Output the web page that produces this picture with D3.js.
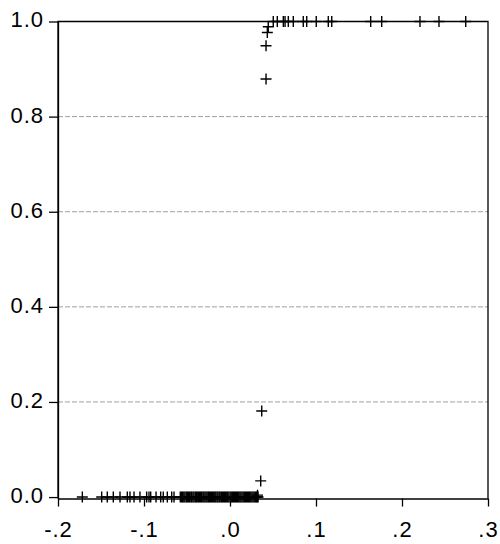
<!DOCTYPE html>
<html>
<head>
<meta charset="utf-8">
<script src="https://cdn.jsdelivr.net/npm/d3@7"></script>
<style>
  body { margin: 0; background: #fff; }
  svg text { font-family: "Liberation Sans", Arial, sans-serif; font-size: 22px; fill: #000; }
</style>
</head>
<body>
<script>
"use strict";
// points sitting at y = 0
let lowX = [-0.1717, -0.1492, -0.1427, -0.1357, -0.1279, -0.1194, -0.1163, -0.1116,
  -0.1047, -0.0969, -0.0942, -0.0922, -0.0860, -0.0806, -0.0776, -0.0729, -0.0678, -0.0651,
  -0.0578, -0.0562, -0.0551, -0.0537, -0.0524, -0.0509, -0.0497, -0.0483, -0.0471, -0.0455,
  -0.0446, -0.0431, -0.0419, -0.0404, -0.0392, -0.0381, -0.0366, -0.0355, -0.0341, -0.0329,
  -0.0315, -0.0304, -0.0291, -0.0278, -0.0266, -0.0252, -0.0241, -0.0229, -0.0214, -0.0203,
  -0.0189, -0.0177, -0.0165, -0.0151, -0.0140, -0.0126, -0.0115, -0.0101, -0.0089, -0.0076,
  -0.0063, -0.0052, -0.0038, -0.0026, -0.0013, 0.0002, 0.0014, 0.0027, 0.0039, 0.0052,
  0.0064, 0.0077, 0.0089, 0.0102, 0.0115, 0.0127, 0.0140, 0.0153, 0.0166, 0.0178, 0.0191,
  0.0204, 0.0217, 0.0229, 0.0242, 0.0255, 0.0268, 0.0281, 0.0294, 0.0306, 0.0318, 0.0326];
// points sitting at y = 1
let highX = [0.0503, 0.0550, 0.0620, 0.0640, 0.0678, 0.0736, 0.0852, 0.0892, 0.1003,
  0.1143, 0.1183, 0.1636, 0.1764, 0.2209, 0.2430, 0.2741];
// points in between
let midX = [0.0320, 0.0357, 0.0369, 0.0419, 0.0419, 0.0434, 0.0445];
let midY = [0.004, 0.034, 0.181, 0.879, 0.949, 0.977, 0.989];

let xTicks = [-0.2, -0.1, 0.0, 0.1, 0.2, 0.3];
let xTickLabels = ["-.2", "-.1", ".0", ".1", ".2", ".3"];
let yTicks = [0.0, 0.2, 0.4, 0.6, 0.8, 1.0];
let yTickLabels = ["0.0", "0.2", "0.4", "0.6", "0.8", "1.0"];

let points = lowX.map(x => [x, 0])
  .concat(highX.map(x => [x, 1]))
  .concat(midX.map((x, i) => [x, midY[i]]));

let svgWidth = 500;
let svgHeight = 544;
let plotLeft = 58, plotRight = 488, plotTop = 21.5, plotBottom = 498.5;

let x = d3.scaleLinear().domain([-0.2, 0.3]).range([plotLeft, plotRight]);
let y = d3.scaleLinear().domain([-0.003, 1.0]).range([plotBottom, plotTop]);

let svg = d3.select("body").append("svg")
    .attr("width", svgWidth)
    .attr("height", svgHeight);

// dashed grid
svg.selectAll("line.grid")
    .data(yTicks.filter(t => t > 0 && t < 1))
    .enter()
    .append("line")
    .attr("class", "grid")
    .attr("x1", plotLeft)
    .attr("x2", plotRight)
    .attr("y1", d => y(d))
    .attr("y2", d => y(d))
    .attr("stroke", "#a0a0a0")
    .attr("stroke-width", 1)
    .attr("stroke-dasharray", "5,2");

// frame
svg.append("path")
    .attr("d", `M${plotLeft},${plotBottom}V${plotTop}H${plotRight}V${plotBottom}`)
    .attr("fill", "none")
    .attr("stroke", "#000")
    .attr("stroke-width", 1.3);

let xAxis = d3.axisBottom(x)
    .tickValues(xTicks)
    .tickFormat((d, i) => xTickLabels[i])
    .tickSizeInner(8)
    .tickSizeOuter(0)
    .tickPadding(15);
let gx = svg.append("g")
    .attr("transform", `translate(0,${plotBottom})`)
    .call(xAxis);

let yAxis = d3.axisLeft(y)
    .tickValues(yTicks)
    .tickFormat((d, i) => yTickLabels[i])
    .tickSizeInner(9)
    .tickSizeOuter(0)
    .tickPadding(5);
let gy = svg.append("g")
    .attr("transform", `translate(${plotLeft},0)`)
    .call(yAxis);

[gx, gy].forEach(g => {
  g.select(".domain").attr("stroke", "#000").attr("stroke-width", 1.3);
  g.selectAll(".tick line").attr("stroke", "#000").attr("stroke-width", 1.3);
  g.selectAll("text")
    .attr("font-size", 22)
    .attr("font-family", "Liberation Sans, Arial, sans-serif")
    .attr("letter-spacing", 1);
});
gy.selectAll("text").attr("dy", "0.245em");

// plus markers
svg.selectAll("path.pt")
    .data(points)
    .enter()
    .append("path")
    .attr("class", "pt")
    .attr("transform", d => `translate(${x(d[0])},${y(d[1])})`)
    .attr("d", "M-5.5,0H5.5M0,-5.5V5.5")
    .attr("stroke", "#000")
    .attr("stroke-width", 1.4)
    .attr("fill", "none");
</script>
</body>
</html>
